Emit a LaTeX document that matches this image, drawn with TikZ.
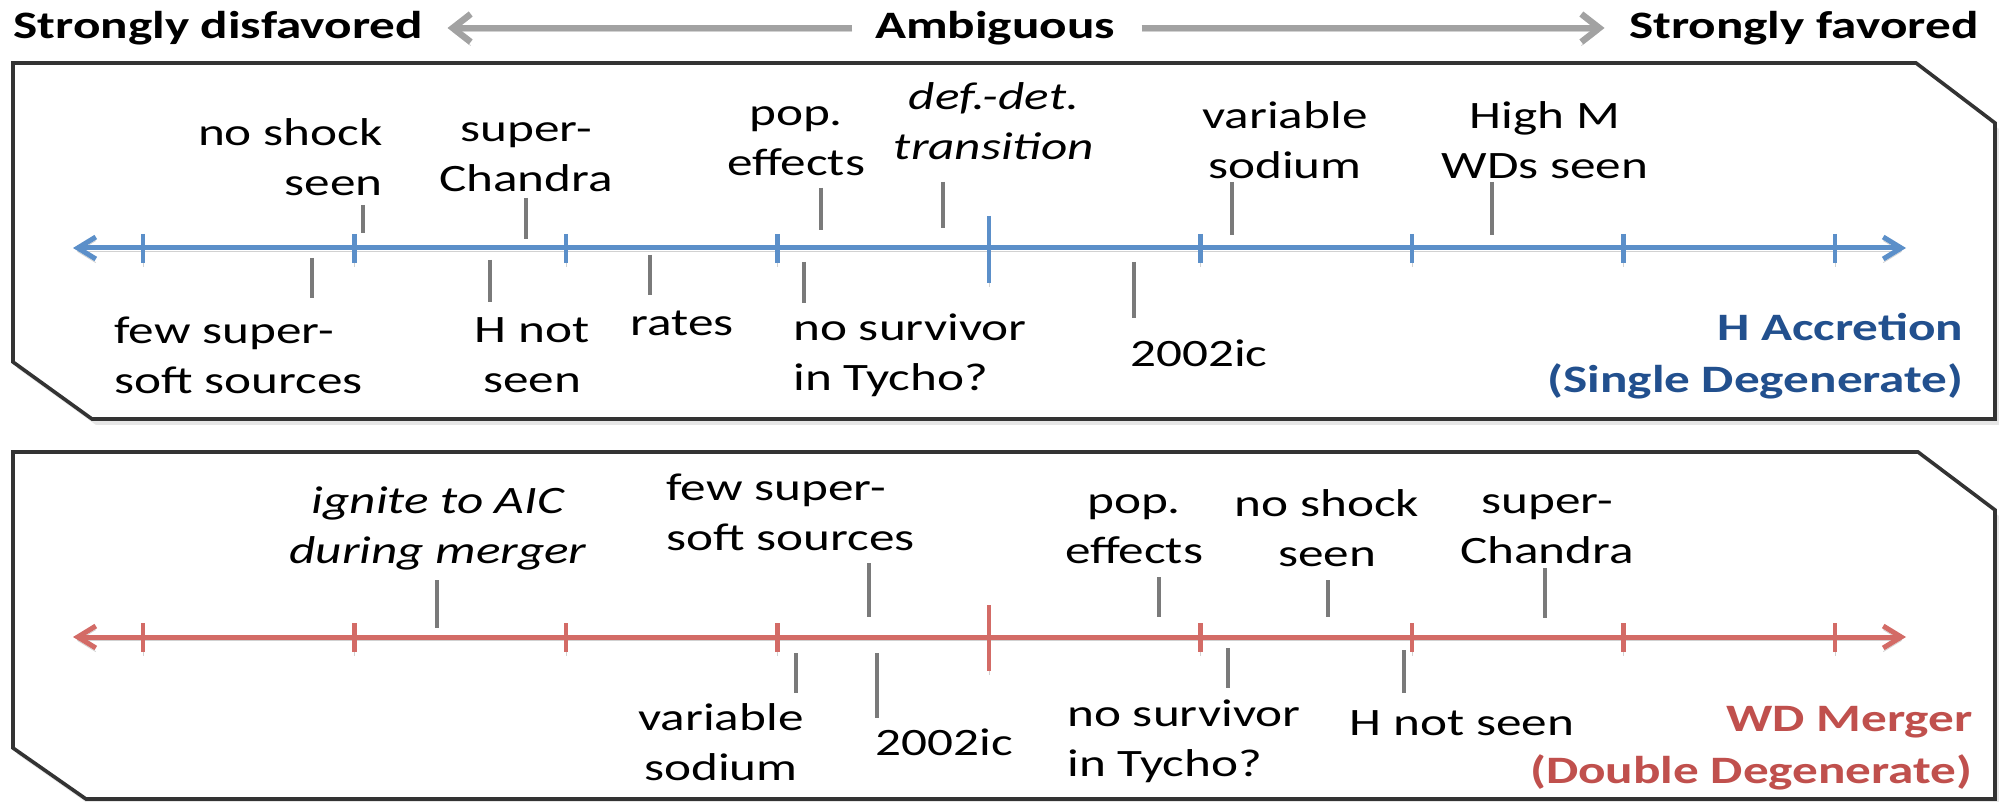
\documentclass[tikz,border=0pt]{standalone}
\usepackage{fontspec}
\setmainfont{Carlito}
\usetikzlibrary{arrows.meta,shadows}
\definecolor{axblue}{HTML}{5B8FC9}
\definecolor{axred}{HTML}{D36B66}
\definecolor{ttlblue}{HTML}{22508E}
\definecolor{ttlred}{HTML}{C0504D}
\definecolor{framegray}{HTML}{333333}
\definecolor{hdrgray}{HTML}{A2A2A2}
\definecolor{mkgray}{HTML}{7A7A7A}
\begin{document}
\begin{tikzpicture}[x=0.5pt,y=-0.5pt,
  txt/.style={font=\fontsize{19.4}{25}\selectfont, xscale=1.32, inner sep=0pt, text=black},
  hdr/.style={txt, font=\fontsize{19.4}{25}\selectfont\bfseries},
  ttl/.style={txt, font=\fontsize{19.4}{26}\selectfont\bfseries, align=right, anchor=east},
  panel/.style={draw=framegray, line width=1.8pt, fill=white,
    drop shadow={opacity=0.2, shadow xshift=2pt, shadow yshift=-3pt}},
  shade/.style={preaction={draw=black!18, transform canvas={yshift=-1.8pt}}},
  axisline/.style={line width=2.5pt, shade,
    {Straight Barb[length=9pt,width=11pt]}-{Straight Barb[length=9pt,width=11pt]}},
  tickmark/.style={line width=2.3pt, shade},
  mk/.style={draw=mkgray, line width=1.7pt},
  harrow/.style={draw=hdrgray, line width=3.2pt, shade, -{Straight Barb[length=9pt,width=14pt]}}
]
\useasboundingbox (0,0) rectangle (1999,802);

% header
\node[hdr, anchor=west] (dis) at (13,28) {Strongly disfavored};
\node[hdr] (amb) at (995,28) {Ambiguous};
\node[hdr, anchor=east] (fav) at (1979,28) {Strongly favored};
\draw[harrow, shorten >=12pt, shorten <=11pt] (amb.west) -- (dis.east);
\draw[harrow, shorten >=12pt, shorten <=13pt] (amb.east) -- (fav.west);

% panels
\draw[panel] (13,63) -- (1916,63) -- (1995,123) -- (1995,419) -- (92,419) -- (13,362) -- cycle;
\draw[panel] (13,452) -- (1918,452) -- (1995,510) -- (1995,799) -- (86,799) -- (13,748) -- cycle;

% top axis
\coordinate (aL) at (73,248); \coordinate (aR) at (1906,248);
\draw[axisline, axblue] (aL) -- (aR);
\foreach \x in {143,354.5,566,777.5,1200.5,1412,1623.5,1835}
  \draw[tickmark, axblue] (\x,234) -- (\x,263);
\draw[tickmark, axblue] (989,216) -- (989,283);

% bottom axis
\coordinate (bL) at (73,637); \coordinate (bR) at (1906,637);
\draw[axisline, axred] (bL) -- (bR);
\foreach \x in {143,354.5,566,777.5,1200.5,1412,1623.5,1835}
  \draw[tickmark, axred] (\x,623) -- (\x,652);
\draw[tickmark, axred] (989,605) -- (989,671);

% markers
\foreach \x/\a/\b in {363/205/233, 526/198/239, 821/188/230, 943/182/228, 1232/182/235, 1492/182/235,
  312/258/298, 490/260/302, 650/255/295, 804/262/303, 1134/262/318,
  437/580/628, 869/563/617, 1159/577/617, 1328/580/617, 1545/568/618,
  796/653/693, 877/653/718, 1228/648/688, 1404/650/693}
  \draw[mk] (\x,\a) -- (\x,\b);

% top panel labels
\node[txt, align=right, anchor=east] (t1) at (383,157) {no shock\\seen};
\node[txt, align=center] (t2) at (526,157) {super-\\Chandra};
\node[txt, align=center] (t3) at (796,141) {pop.\\effects};
\node[txt, align=center, font=\fontsize{19.4}{25}\selectfont\itshape] (t4) at (994,121) {def.-det.\\transition};
\node[txt, align=center] (t5) at (1285,140) {variable\\sodium};
\node[txt, align=center] (t6) at (1545,140) {High M\\WDs seen};
\node[txt, align=left, anchor=west] (t7) at (114,355) {few super-\\soft sources};
\node[txt, align=center] (t8) at (532,355) {H not\\seen};
\node[txt] (t9) at (682,323) {rates};
\node[txt, align=left, anchor=west] (t10) at (793,355) {no survivor\\in Tycho?};
\node[txt] (t11) at (1199,353) {2002ic};
\node[ttl, text=ttlblue] (t12) at (1964,356) {H Accretion\\(Single Degenerate)};

% bottom panel labels
\node[txt, align=center, font=\fontsize{19.4}{25}\selectfont\itshape] (b1) at (438,528) {ignite to AIC\\during merger};
\node[txt, align=left, anchor=west] (b2) at (666,512) {few super-\\soft sources};
\node[txt, align=center] (b3) at (1134,529) {pop.\\effects};
\node[txt, align=center] (b4) at (1327,528) {no shock\\seen};
\node[txt, align=center] (b5) at (1547,529) {super-\\Chandra};
\node[txt, align=center] (b6) at (721,742) {variable\\sodium};
\node[txt, anchor=west] (b7) at (875,742) {2002ic};
\node[txt, align=left, anchor=west] (b8) at (1067,741) {no survivor\\in Tycho?};
\node[txt] (b9) at (1462,723) {H not seen};
\node[ttl, text=ttlred] (b10) at (1973,748) {WD Merger\\(Double Degenerate)};
\end{tikzpicture}
\end{document}
